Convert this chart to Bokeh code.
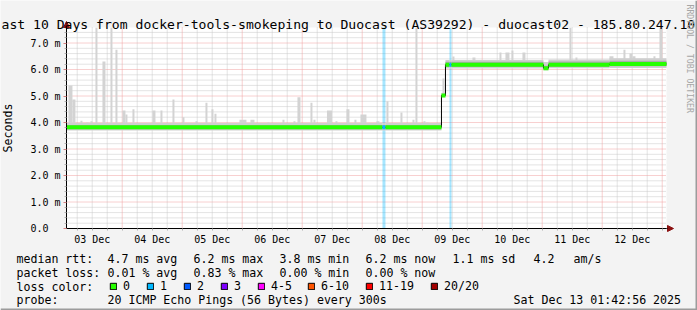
import math
from bokeh.plotting import figure
from bokeh.models import FixedTicker, Label, Legend, LegendItem, Arrow, NormalHead, Range1d
from bokeh.embed import file_html
from bokeh.resources import INLINE

# ---------------- data (time in hours since 03 Dec 2025 00:00) ----------------
T_START = 1.7156      # 03 Dec 01:42:56
T_END = 241.7156      # 13 Dec 01:42:56
Y_MAX = 7.585         # ms, top of the graph

# median rtt per period (start hour), value in ms, lost pings (of 20)
median_start_h = [T_START, 128.1, 129.3, 151.7, 153.3, 154.9, 155.7, 192.5, 194.5, 218.9]
median_ms      = [3.82,    3.82,  3.82,  5.02,  6.18,  6.18,  6.18,  6.05,  6.18,  6.21]
median_loss    = [0,       1,     0,     0,     0,     1,     0,     0,     0,     0]

# smoke (ping spread) per period, ms
smoke_lo_ms = [3.70, 3.70, 3.70, 4.95, 6.04, 6.04, 6.04, 5.97, 6.05, 6.06]
smoke_hi_ms = [3.98, 3.98, 3.98, 5.12, 6.36, 6.36, 6.36, 6.28, 6.38, 6.42]
core_lo_ms  = [3.75, 3.75, 3.75, 4.98, 6.09, 6.09, 6.09, 6.00, 6.10, 6.12]
core_hi_ms  = [3.91, 3.91, 3.91, 5.07, 6.29, 6.29, 6.29, 6.14, 6.30, 6.33]

# slowest pings (spikes): start hour, end hour, max ms
spike_left_h  = [2.5, 4.1, 7.3, 9.7, 11.3, 13.3, 16.1, 19.3, 21.3, 24.1, 25.3, 28.1,
                 36.1, 39.3, 44.1, 48.1, 53.3, 57.3, 59.7, 60.9, 70.9, 75.3, 82.1,
                 88.1, 92.5, 94.1, 99.3, 100.5, 105.9, 109.3, 113.7, 116.9, 119.3,
                 125.7, 129.7, 135.3, 140.1, 141.3, 144.5, 145.7, 152.1, 156.1,
                 164.1, 174.9, 177.3, 179.7, 184.1, 202.9, 205.3, 218.9, 224.5,
                 226.9, 228.1, 236.5, 238.9]
spike_right_h = [4.1, 5.3, 8.1, 10.5, 12.1, 14.1, 17.3, 20.1, 22.1, 25.3, 26.1, 28.9,
                 37.3, 40.1, 44.9, 48.9, 54.1, 58.1, 60.5, 61.7, 73.7, 76.9, 82.9,
                 88.9, 93.3, 95.3, 100.1, 101.3, 107.9, 110.1, 114.9, 117.7, 121.7,
                 126.9, 130.5, 136.1, 140.9, 142.1, 145.3, 146.5, 152.9, 156.9,
                 165.3, 175.7, 178.9, 180.5, 185.3, 203.7, 206.1, 220.5, 225.3,
                 228.1, 229.3, 237.3, 240.1]
spike_top_ms  = [5.40, 4.87, 4.07, 4.00, 4.05, 7.58, 6.30, 7.58, 6.75, 4.45, 4.30, 4.50,
                 4.45, 4.45, 4.87, 4.20, 4.05, 4.75, 4.50, 4.33, 4.10, 4.10, 4.00,
                 4.10, 4.05, 4.95, 4.75, 4.10, 4.45, 4.05, 4.50, 4.10, 4.30,
                 4.05, 4.80, 4.38, 4.10, 7.58, 4.05, 4.00, 5.66, 6.49,
                 6.45, 6.64, 6.64, 6.72, 6.64, 7.58, 6.45, 6.50, 6.75,
                 6.60, 6.50, 6.50, 7.58]

# loss background bars
loss_bar_left_h  = [128.1, 154.9]
loss_bar_right_h = [129.3, 155.7]
loss_bar_loss    = [1, 1]

day_labels = ["03 Dec", "04 Dec", "05 Dec", "06 Dec", "07 Dec",
              "08 Dec", "09 Dec", "10 Dec", "11 Dec", "12 Dec"]
y_ticks = [0, 1, 2, 3, 4, 5, 6, 7]
y_tick_labels = ["0.0\u00a0\u00a0", "1.0 m", "2.0 m", "3.0 m", "4.0 m", "5.0 m", "6.0 m", "7.0 m"]

loss_levels = ["0", "1", "2", "3", "4-5", "6-10", "11-19", "20/20"]
loss_colors = ["#26ff00", "#00b8ff", "#0059ff", "#7e00ff", "#ff00ff", "#ff5500", "#ff0000", "#a10000"]

stats_rows = [
    ["median rtt:", "4.7 ms avg", "6.2 ms max", "3.8 ms min", "6.2 ms now", "1.1 ms sd", "4.2", "am/s"],
    ["packet loss:", "0.01 % avg", "0.83 % max", "0.00 % min", "0.00 % now"],
]
probe_text = "20 ICMP Echo Pings (56 Bytes) every 300s"
stamp_text = "Sat Dec 13 01:42:56 2025"
title_text = "ast 10 Days from docker-tools-smokeping to Duocast (AS39292) - duocast02 - 185.80.247.10"

# ---------------- layout ----------------
W, H = 697, 310
GL, GR, GT, GB = 66, 666, 27, 228          # graph area in canvas pixels
PX_H = (GR - GL) / (T_END - T_START)        # px per hour
PX_MS = (GB - GT) / Y_MAX                   # px per ms
MONO = "DejaVu Sans Mono"
BG = "#f3f3f3"
NAN = float("nan")

p = figure(width=W, height=H,
           x_range=Range1d(T_START - GL / PX_H, T_START + (W - GL) / PX_H),
           y_range=Range1d(-(H - GB) / PX_MS, GB / PX_MS),
           output_backend="svg", toolbar_location=None,
           min_border_left=0, min_border_right=0, min_border_top=0, min_border_bottom=0,
           background_fill_color=BG, border_fill_color=BG)
p.outline_line_color = None
p.xgrid.visible = False
p.ygrid.visible = False

noons = [12 + 24 * i for i in range(len(day_labels))]
midnights = [24 * i for i in range(1, 11)]
six_h = [6 * i for i in range(1, 41) if (6 * i) % 24 != 0 and T_START < 6 * i < T_END]
y_minor = [round(0.2 * i, 1) for i in range(1, 38) if i % 5 != 0]

# graph canvas
p.quad(left=[T_START], right=[T_END], bottom=[0], top=[Y_MAX], fill_color="white", line_color=None)

# grid
minor_style = dict(line_color="#c8c8c8", line_dash="1 1", line_width=1)
major_style = dict(line_color="#f0a0a0", line_dash="1 1", line_width=1)
p.segment(x0=six_h, x1=six_h, y0=0, y1=Y_MAX, **minor_style)
p.segment(x0=T_START, x1=T_END, y0=y_minor, y1=y_minor, **minor_style)
p.segment(x0=midnights, x1=midnights, y0=0, y1=Y_MAX, **major_style)
p.segment(x0=T_START, x1=T_END, y0=y_ticks[1:], y1=y_ticks[1:], **major_style)

# axes drawn at the graph edges
p.xaxis.fixed_location = 0
p.xaxis.bounds = (T_START, T_END)
p.xaxis.ticker = FixedTicker(ticks=noons, minor_ticks=[h for h in range(6, 241, 6)])
p.xaxis.major_label_overrides = {n: d for n, d in zip(noons, day_labels)}
p.xaxis.major_tick_line_color = None
p.xaxis.major_tick_out = 0
p.xaxis.major_tick_in = 0
p.xaxis.minor_tick_line_color = "#b0b0b0"
p.xaxis.minor_tick_out = 2
p.xaxis.minor_tick_in = 0
p.xaxis.major_label_standoff = 3

p.yaxis.fixed_location = T_START
p.yaxis.bounds = (0, Y_MAX)
p.yaxis.ticker = FixedTicker(ticks=y_ticks, minor_ticks=y_minor)
p.yaxis.major_label_overrides = {t: l for t, l in zip(y_ticks, y_tick_labels)}
p.yaxis.major_tick_out = 3
p.yaxis.major_tick_in = 0
p.yaxis.major_tick_line_color = "#d08080"
p.yaxis.minor_tick_out = 2
p.yaxis.minor_tick_in = 0
p.yaxis.minor_tick_line_color = "#b0b0b0"
p.yaxis.major_label_standoff = 3
p.yaxis.axis_label = "Seconds"
p.yaxis.axis_label_text_font = MONO
p.yaxis.axis_label_text_font_size = "11.6px"
p.yaxis.axis_label_text_font_style = "normal"
p.yaxis.axis_label_text_color = "black"
p.yaxis.axis_label_standoff = 12

for ax in (p.xaxis, p.yaxis):
    ax.major_label_text_font = MONO
    ax.major_label_text_font_size = "10px"
    ax.major_label_text_color = "black"
    ax.axis_line_color = "black"
    ax.axis_line_width = 1

# loss background bars
p.quad(left=loss_bar_left_h, right=loss_bar_right_h, bottom=0, top=Y_MAX,
       fill_color=[loss_colors[l] for l in loss_bar_loss], fill_alpha=0.35, line_color=None)


def median_at(h):
    v = median_ms[0]
    for s, m in zip(median_start_h, median_ms):
        if h >= s:
            v = m
    return v


spike_base = [median_at(0.5 * (a + b)) for a, b in zip(spike_left_h, spike_right_h)]
p.quad(left=spike_left_h, right=spike_right_h, bottom=spike_base,
       top=[min(t, Y_MAX) for t in spike_top_ms], fill_color="#d3d3d3", line_color=None)

seg_end_h = median_start_h[1:] + [T_END]
p.quad(left=median_start_h, right=seg_end_h, bottom=smoke_lo_ms, top=smoke_hi_ms,
       fill_color="#cfcfcf", line_color=None)
p.quad(left=median_start_h, right=seg_end_h, bottom=core_lo_ms, top=core_hi_ms,
       fill_color="#ababab", line_color=None)

# median: black step + loss coloured segments
p.step(x=median_start_h + [T_END], y=median_ms + [median_ms[-1]], mode="after",
       line_color="black", line_width=1)
p.segment(x0=median_start_h, x1=seg_end_h, y0=median_ms, y1=median_ms,
          line_color=[loss_colors[l] for l in median_loss], line_width=4, line_cap="butt")

# axis arrows (screen units: from canvas bottom-left, y up)
head = dict(size=6, fill_color="#8b1010", line_color="#8b1010")
p.add_layout(Arrow(end=NormalHead(**head), x_start=GL, y_start=H - GT, x_end=GL, y_end=H - GT + 6,
                   start_units="screen", end_units="screen", line_color="black"))
p.add_layout(Arrow(end=NormalHead(**head), x_start=GR, y_start=H - GB, x_end=GR + 7, y_end=H - GB,
                   start_units="screen", end_units="screen", line_color="black"))

# page edge shadow
p.add_layout(Arrow(end=None, x_start=W - 1, y_start=0, x_end=W - 1, y_end=H,
                   start_units="screen", end_units="screen", line_color="#9c9c9c", line_width=2))
p.add_layout(Arrow(end=None, x_start=0, y_start=1, x_end=W, y_end=1,
                   start_units="screen", end_units="screen", line_color="#9c9c9c", line_width=2))


def lab(text, cx, cy, size="11.6px", color="black", angle=0.0, baseline="alphabetic"):
    p.add_layout(Label(x=cx, y=H - cy, x_units="screen", y_units="screen", text=text,
                       text_font=MONO, text_font_size=size, text_color=color,
                       text_align="left", text_baseline=baseline, angle=angle))


lab(title_text, 1, 24, size="13.1px")
lab("RRDTOOL / TOBI OETIKER", 689, 4, size="8.2px", color="#a6a6a6", angle=-math.pi / 2,
    baseline="middle")

row_x = [[16, 107, 193, 279, 365, 452, 533, 573], [16, 107, 193, 279, 365]]
row_y = [258, 272]
for texts, xs, y in zip(stats_rows, row_x, row_y):
    for t, x in zip(texts, xs):
        lab(t, x, y)
lab("loss color:", 16, 286)
lab("probe:", 16, 299)
lab(probe_text, 107, 299)
lab(stamp_text, 513, 299)

# loss colour legend: one box per level (proxy renderers hold no drawable mark)
box_x = [109, 146, 183, 220, 257, 307, 365, 430]
for lvl, col, bx in zip(loss_levels, loss_colors, box_x):
    r = p.quad(left=[NAN], right=[NAN], bottom=[NAN], top=[NAN], fill_color=col, line_color="black")
    leg = Legend(items=[LegendItem(label=lvl, renderers=[r])], location=(bx, H - 278 - 16),
                 glyph_width=8, glyph_height=8, label_height=16, label_width=10,
                 label_standoff=6, padding=0, margin=0, spacing=0,
                 border_line_alpha=0, background_fill_alpha=0,
                 label_text_font=MONO, label_text_font_size="11.6px", label_text_color="black",
                 label_text_baseline="alphabetic")
    p.add_layout(leg)

open("out.html", "w").write(file_html(p, INLINE))
